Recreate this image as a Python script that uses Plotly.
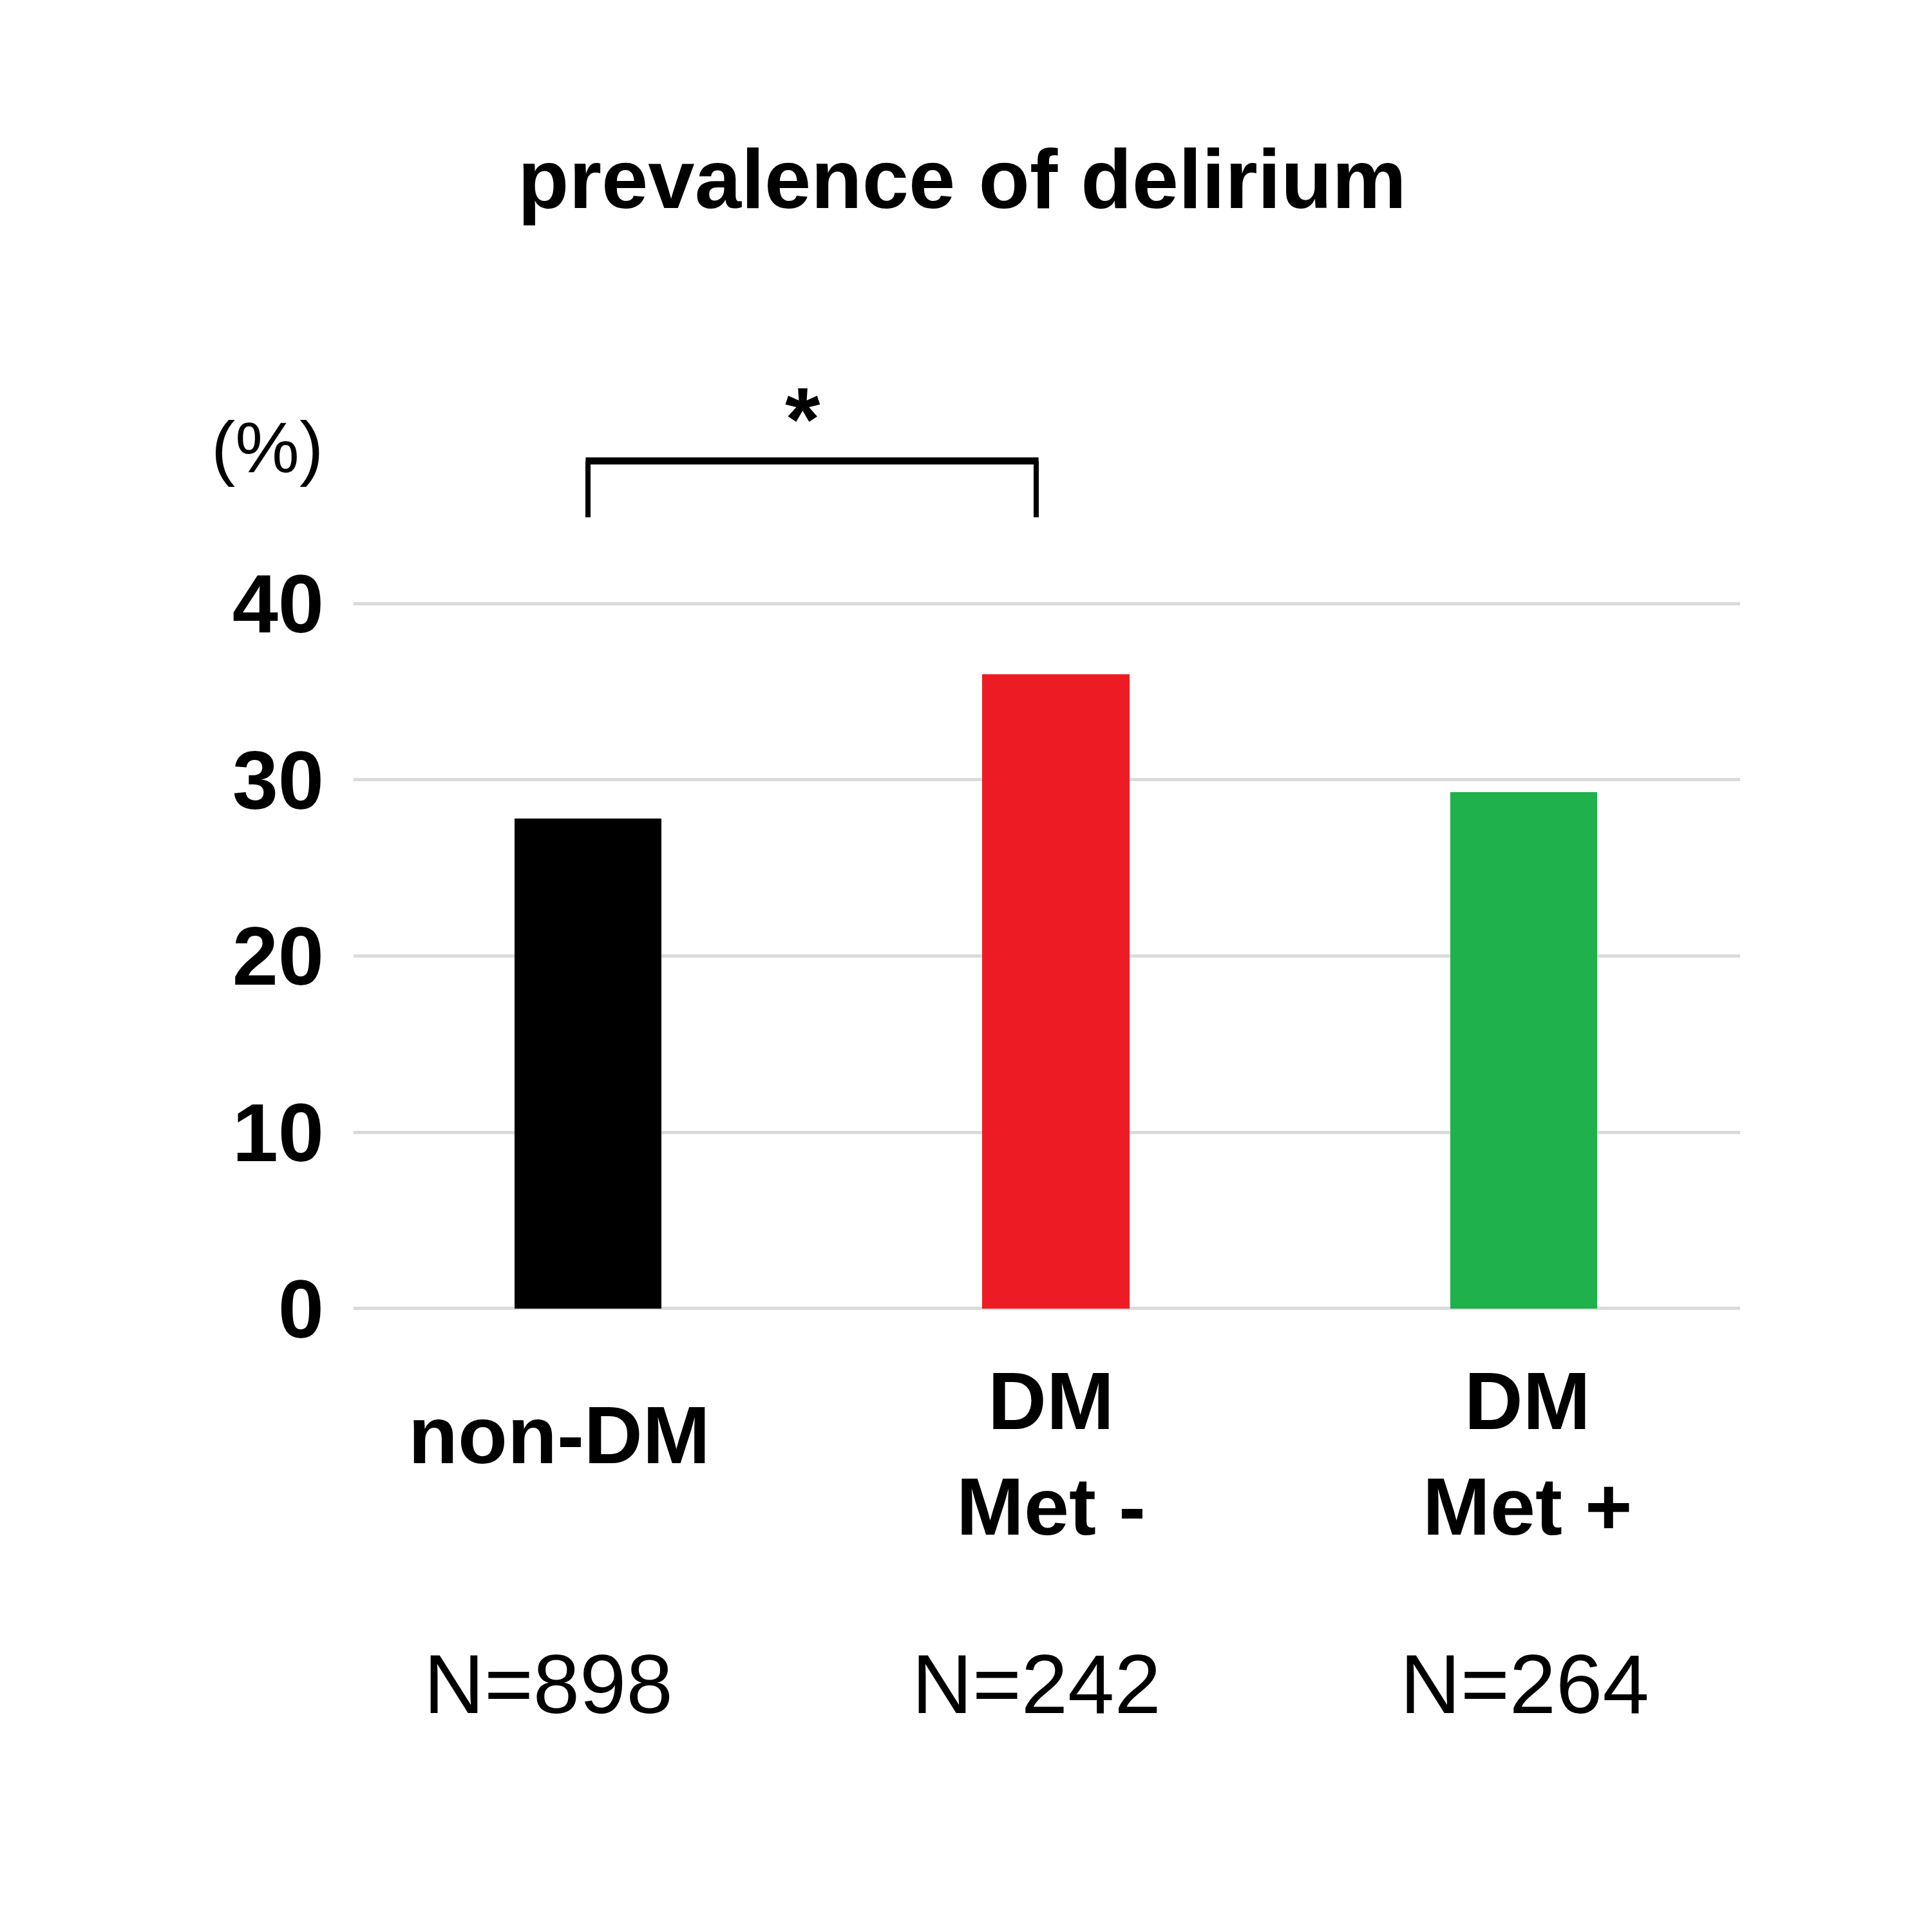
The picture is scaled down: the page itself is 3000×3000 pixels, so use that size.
import plotly.graph_objects as go

# ---- data ----
categories = ["non-DM", "DM<br>Met -", "DM<br>Met +"]
values = [27.8, 36.0, 29.3]
n_labels = ["N=898", "N=242", "N=264"]
y_ticks = [0, 10, 20, 30, 40]
bar_colors = ["#000000", "#ED1C24", "#1FB14B"]

# ---- layout geometry (pixels in the 3000x3000 page) ----
W = H = 3000
OFF = 8  # page body margin offset
x_px0, x_unit = 913.0 - OFF, 726.5     # pixel of category 0, pixels per category
y_px0, y_unit = 2032.0 - OFF, 27.37    # pixel of value 0, pixels per unit
plot_left, plot_right = 549 - OFF, 2702 - OFF
ymin, ymax = -0.3, 52
plot_top = y_px0 - ymax * y_unit
plot_bottom = y_px0 - ymin * y_unit
xmin = (plot_left - x_px0) / x_unit
xmax = (plot_right - x_px0) / x_unit
plot_h = plot_bottom - plot_top


def ypaper(px):
    return (plot_bottom - (px - OFF)) / plot_h


xs = list(range(len(categories)))

fig = go.Figure()
fig.add_trace(go.Bar(
    x=xs, y=values, width=0.314,
    marker=dict(color=bar_colors, line=dict(width=0)),
    showlegend=False, hoverinfo="skip",
))

FONT = "Liberation Sans, Arial, sans-serif"

annotations = []
# category labels
label_xshift = [-45, -8, 6]
for i, lab in enumerate(categories):
    ycen = 2258 if "<br>" in lab else 2229
    annotations.append(dict(
        x=xs[i], y=ypaper(ycen), xref="x", yref="paper", text=lab,
        showarrow=False, xanchor="center", yanchor="middle", xshift=label_xshift[i],
        font=dict(family=FONT, size=126, color="black", weight="bold"),
    ))
# N labels
n_xshift = [-62, -30, 1]
for i, lab in enumerate(n_labels):
    annotations.append(dict(
        x=xs[i], y=ypaper(2615), xref="x", yref="paper", text=lab,
        showarrow=False, xanchor="center", yanchor="middle", xshift=n_xshift[i],
        font=dict(family=FONT, size=130, color="black"),
    ))
# unit label
annotations.append(dict(
    x=(415 - OFF - plot_left) / (plot_right - plot_left), y=ypaper(694), xref="paper", yref="paper",
    text="(%)", showarrow=False, xanchor="center", yanchor="middle",
    font=dict(family=FONT, size=112, color="black"),
))
# significance asterisk
annotations.append(dict(
    x=(1246 - OFF - x_px0) / x_unit, y=ypaper(650), xref="x", yref="paper",
    text="*", showarrow=False, xanchor="center", yanchor="middle",
    font=dict(family=FONT, size=140, color="black", weight="bold"),
))

# bracket between non-DM and DM Met-
br_left, br_right = 0.0, 0.958
br_top, br_bottom = 48.1, 44.9
shapes = [
    dict(type="line", xref="x", yref="y", x0=br_left, x1=br_left, y0=br_bottom, y1=br_top,
         line=dict(color="black", width=8)),
    dict(type="line", xref="x", yref="y", x0=br_right, x1=br_right, y0=br_bottom, y1=br_top,
         line=dict(color="black", width=8)),
    dict(type="line", xref="x", yref="y", x0=br_left - 0.005, x1=br_right + 0.005, y0=br_top, y1=br_top,
         line=dict(color="black", width=11)),
]

fig.update_layout(
    width=W, height=H,
    paper_bgcolor="white", plot_bgcolor="white",
    margin=dict(l=plot_left, r=W - plot_right, t=plot_top, b=H - plot_bottom, pad=0, autoexpand=False),
    title=dict(text="prevalence of delirium", x=(1494 - OFF) / W, xanchor="center",
               y=1 - (277 - OFF) / H, yanchor="middle", yref="container",
               font=dict(family=FONT, size=130, color="black", weight="bold")),
    xaxis=dict(range=[xmin, xmax], showticklabels=False, showgrid=False, zeroline=False,
               showline=False, ticks=""),
    yaxis=dict(range=[ymin, ymax], tickvals=y_ticks, ticktext=[str(v) for v in y_ticks],
               showgrid=True, gridcolor="#DADADA", gridwidth=5, zeroline=False, showline=False,
               ticks="", ticklabelstandoff=45,
               tickfont=dict(family=FONT, size=128, color="black", weight="bold")),
    annotations=annotations,
    shapes=shapes,
    bargap=0,
)

fig.write_html("out.html")
